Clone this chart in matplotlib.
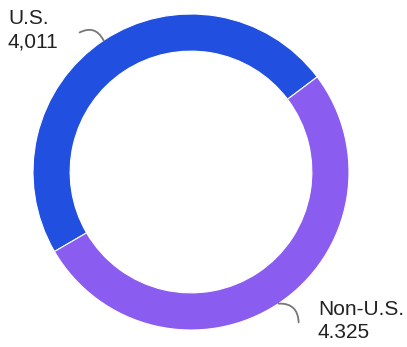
import numpy as np
import matplotlib.pyplot as plt

# --- Données ---
categories = ["U.S.", "Non-U.S."]
valeurs = [4011, 4325]
etiquettes = ["4,011", "4.325"]
couleurs = ["#2150e0", "#8b5cf0"]

plt.rcParams['font.family'] = ['Liberation Sans', 'DejaVu Sans']

fig = plt.figure(figsize=(4.07, 3.47), dpi=100)
ax = fig.add_axes([0, 0, 1, 1])

# centre de l'anneau ~ (191, 172) px, rayon ~ 158 px
R = 158.0
ax.axis("off")

wedges, _ = ax.pie(valeurs, colors=couleurs, startangle=37, counterclock=True,
                   radius=1.0, wedgeprops=dict(width=0.235, edgecolor="white", linewidth=0.8))
ax.set_xlim(-191 / R, (407 - 191) / R)
ax.set_ylim(-(347 - 172) / R, 172 / R)
ax.set_aspect("auto")


def polaire(r, angle_deg):
    a = np.deg2rad(angle_deg)
    return r * np.cos(a), r * np.sin(a)


# lignes de rappel + textes
reglages = [
    # (décalage angulaire, rayon fin, courbure, texte x px, texte y px)
    (5, 1.13, -0.5, 8, 9),
    (2, 1.17, -0.5, 318, 300),
]
for w, cat, lab, (dang, rfin, rad, tx, ty) in zip(wedges, categories, etiquettes, reglages):
    milieu = (w.theta1 + w.theta2) / 2
    debut = polaire(1.0, milieu)
    fin = polaire(rfin, milieu + dang)
    if cat == "U.S.":
        ax.annotate("", xy=debut, xytext=fin,
                    arrowprops=dict(arrowstyle="-", color="#777777", lw=1.3,
                                    connectionstyle=f"arc3,rad={rad}", shrinkA=0, shrinkB=0))
    else:
        ax.annotate("", xy=fin, xytext=debut,
                    arrowprops=dict(arrowstyle="-", color="#777777", lw=1.3,
                                    connectionstyle=f"arc3,rad={rad}", shrinkA=0, shrinkB=0))
    ax.text((tx - 191) / R, (172 - ty) / R, f"{cat}\n{lab}", ha="left", va="top",
            fontsize=15, color="#222222", linespacing=1.3)

fig.savefig("out.png", dpi=100)
